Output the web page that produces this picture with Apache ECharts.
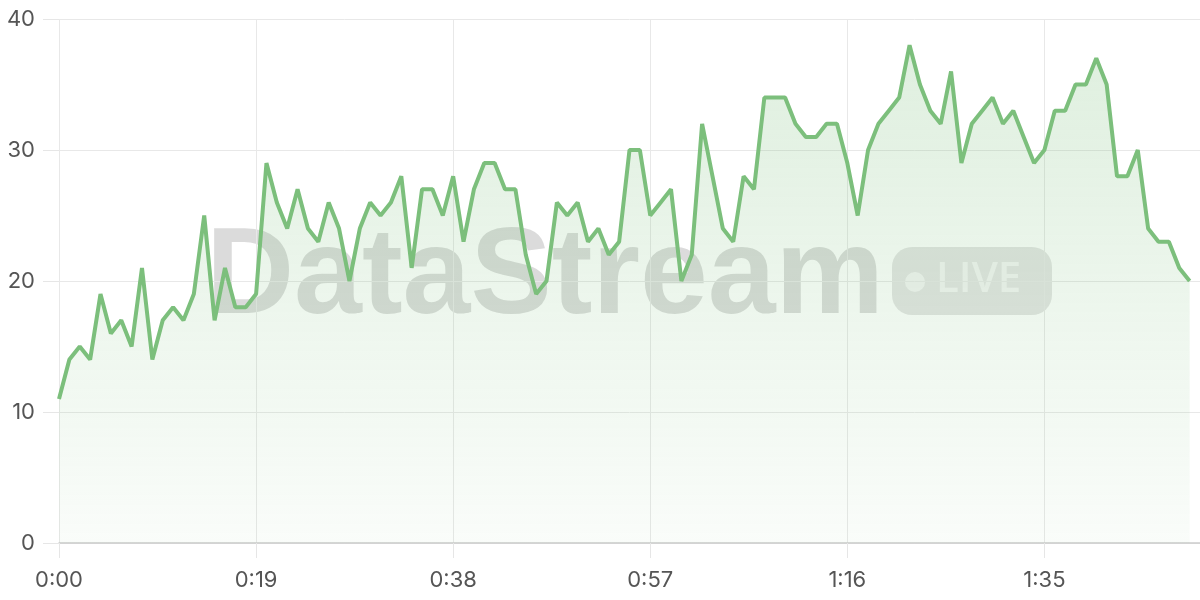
<!DOCTYPE html>
<html>
<head>
<meta charset="utf-8">
<script src="https://cdn.jsdelivr.net/npm/echarts@6/dist/echarts.min.js"></script>
<style>html,body{margin:0;padding:0;background:#fff}#c{width:1200px;height:600px}</style>
</head>
<body>
<div id="c"></div>
<script>
// Data: one value per second (index 0..109), last category (1:50) empty
const values = [11,14,15,14,19,16,17,15,21,14,17,18,17,19,25,17,21,18,18,19,
  29,26,24,27,24,23,26,24,20,24,26,25,26,28,21,27,27,25,28,23,
  27,29,29,27,27,22,19,20,26,25,26,23,24,22,23,30,30,25,26,27,
  20,22,32,28,24,23,28,27,34,34,34,32,31,31,32,32,29,25,30,32,
  33,34,38,35,33,32,36,29,32,33,34,32,33,31,29,30,33,33,35,35,
  37,35,28,28,30,24,23,23,21,20];
const categoryCount = 111;
const categories = [];
for (let i = 0; i < categoryCount; i++) {
  categories.push(Math.floor(i / 60) + ':' + String(i % 60).padStart(2, '0'));
}
const yTicks = [0, 10, 20, 30, 40];

const chart = echarts.init(document.getElementById('c'));
chart.setOption({
  animation: false,
  grid: { left: 59, right: 0, top: 19, bottom: 57 },
  xAxis: {
    type: 'category',
    data: categories,
    boundaryGap: false,
    axisLine: { lineStyle: { color: '#cccccc', width: 1.5 } },
    axisTick: { show: true, interval: 18, length: 15, lineStyle: { color: '#e6e6e6' } },
    axisLabel: { interval: 18, color: '#555', fontSize: 22, margin: 26, fontFamily: 'Inter, sans-serif' },
    splitLine: { show: true, interval: 18, lineStyle: { color: '#e8e8e8' } }
  },
  yAxis: {
    type: 'value',
    min: yTicks[0], max: yTicks[yTicks.length - 1], interval: 10,
    axisLine: { show: false },
    axisTick: { show: true, length: 16, lineStyle: { color: '#e6e6e6' } },
    axisLabel: { color: '#555', fontSize: 22, margin: 24, fontFamily: 'Inter, sans-serif' },
    splitLine: { lineStyle: { color: '#e8e8e8' } }
  },
  graphic: [
    { type: 'text', left: 206, top: 218, z: -1, silent: true,
      style: { text: 'DataStream', font: 'bold 122px "Liberation Sans", Arial, sans-serif', fill: 'rgba(90,90,90,0.22)' } },
    { type: 'rect', left: 892, top: 247, z: -1, silent: true,
      shape: { width: 160, height: 68, r: 20 }, style: { fill: 'rgba(90,90,90,0.16)' } },
    { type: 'circle', left: 905, top: 272, z: -1, silent: true,
      shape: { r: 10 }, style: { fill: 'rgba(255,255,255,0.6)' } },
    { type: 'text', left: 936, top: 259, z: -1, silent: true,
      style: { text: 'LIVE', font: '600 42px "Open Sans", "Liberation Sans", sans-serif', fill: 'rgba(255,255,255,0.6)' } }
  ],
  series: [{
    type: 'line',
    data: values,
    symbol: 'none',
    lineStyle: { color: '#7cbf7c', width: 4 },
    itemStyle: { color: '#7cbf7c' },
    areaStyle: {
      color: new echarts.graphic.LinearGradient(0, 0, 0, 1, [
        { offset: 0, color: 'rgba(124,191,124,0.35)' },
        { offset: 1, color: 'rgba(124,191,124,0.06)' }
      ])
    }
  }]
});
</script>
</body>
</html>
